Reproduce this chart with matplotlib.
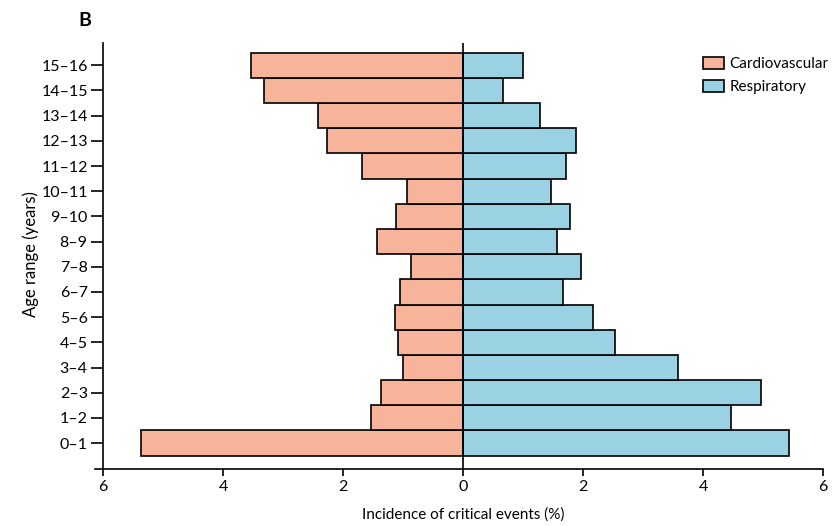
import matplotlib
matplotlib.use("Agg")
import matplotlib.pyplot as plt
import numpy as np
from matplotlib.patches import Patch

age_ranges = ["0–1", "1–2", "2–3", "3–4", "4–5", "5–6", "6–7", "7–8",
              "8–9", "9–10", "10–11", "11–12", "12–13", "13–14", "14–15", "15–16"]
cardiovascular = [5.36, 1.53, 1.36, 1.00, 1.09, 1.13, 1.05, 0.86,
                  1.43, 1.12, 0.93, 1.69, 2.26, 2.42, 3.32, 3.53]
respiratory = [5.43, 4.46, 4.96, 3.58, 2.54, 2.16, 1.67, 1.96,
               1.56, 1.78, 1.47, 1.71, 1.88, 1.28, 0.67, 1.00]
xticks = [-6, -4, -2, 0, 2, 4, 6]
xticklabels = ["6", "4", "2", "0", "2", "4", "6"]

c_cardio = "#F8B49A"
c_resp = "#9AD2E3"

plt.rcParams['font.family'] = ['Lato', 'DejaVu Sans']
FS = 11

fig = plt.figure(figsize=(8.33, 5.26), dpi=100)
ax = fig.add_axes([95/833, 1 - 469/526, (823 - 95)/833, (469 - 43)/526])

y = np.arange(len(age_ranges))
ax.barh(y, -np.array(cardiovascular), height=1.0, color=c_cardio,
        edgecolor="black", linewidth=1.2, zorder=2)
ax.barh(y, respiratory, height=1.0, color=c_resp,
        edgecolor="black", linewidth=1.2, zorder=2)
ax.axvline(0, color="black", linewidth=1.2, zorder=3)

ax.set_xlim(-6 - 8/60, 6)
ax.set_ylim(-1.03, 15.885)
ax.spines['left'].set_position(('data', -6))
ax.spines['top'].set_visible(False)
ax.spines['right'].set_visible(False)
for s in ['left', 'bottom']:
    ax.spines[s].set_linewidth(1.2)

ax.set_xticks(xticks)
ax.set_xticklabels(xticklabels, fontsize=FS + 0.5)
ax.set_yticks(y)
ax.set_yticklabels(age_ranges, fontsize=FS + 0.5)
ax.tick_params(axis='y', length=9, width=1.2, pad=2)
ax.tick_params(axis='x', length=5, width=1.2, pad=3)

ax.set_xlabel("Incidence of critical events (%)", fontsize=FS)
ax.set_ylabel("Age range (years)", fontsize=12)
ax.xaxis.set_label_coords((463 - 95) / 728, (469 - 507) / 426)
ax.yaxis.set_label_coords((39 - 95) / 728, (469 - 254) / 426)

fig.text(85/833, 1 - 20/526, "B", fontsize=14, fontweight="bold",
         ha="center", va="center")

handles = [Patch(facecolor=c_cardio, edgecolor="black", linewidth=1.2, label="Cardiovascular"),
           Patch(facecolor=c_resp, edgecolor="black", linewidth=1.2, label="Respiratory")]
ax.legend(handles=handles, loc="upper left",
          bbox_to_anchor=((697 - 95) / 728, (469 - 51) / 426),
          frameon=False, fontsize=FS, handlelength=1.37, handleheight=0.85,
          handletextpad=0.35, labelspacing=0.55, borderaxespad=0.0, borderpad=0.4)

fig.savefig("out.png", dpi=100)
